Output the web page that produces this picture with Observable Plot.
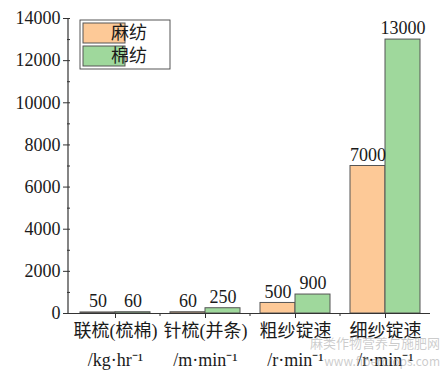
<!DOCTYPE html>
<html>
<head>
<meta charset="utf-8">
<script src="https://cdn.jsdelivr.net/npm/d3@7"></script>
<script src="https://cdn.jsdelivr.net/npm/@observablehq/plot@0.6"></script>
<style>
  html, body { margin: 0; padding: 0; background: white; }
  #chart { position: relative; width: 444px; height: 373px; }
  #chart svg, #chart svg text { font-family: "Liberation Serif", "Noto Sans CJK SC", serif !important; }
  #chart svg text.wm { font-family: "Noto Sans CJK SC", sans-serif !important; }
</style>
</head>
<body>
<div id="chart"></div>
<script>
const categories = ["联梳(梳棉)", "针梳(并条)", "粗纱锭速", "细纱锭速"];
const units = ["/kg·hr⁻¹", "/m·min⁻¹", "/r·min⁻¹", "/r·min⁻¹"];
const series = ["麻纺", "棉纺"];
const hempValues = [50, 60, 500, 7000];
const cottonValues = [60, 250, 900, 13000];
const yTicks = [0, 2000, 4000, 6000, 8000, 10000, 12000, 14000];
const yMinorTicks = [1000, 3000, 5000, 7000, 9000, 11000, 13000];
const colors = ["#FDC997", "#9FD89C"];

const data = categories.flatMap((c, i) => [
  {cat: c, s: series[0], v: hempValues[i]},
  {cat: c, s: series[1], v: cottonValues[i]}
]);

const FONT = "Liberation Serif, Noto Sans CJK SC, serif";

const chart = Plot.plot({
  width: 444, height: 373,
  marginLeft: 68, marginRight: 13, marginTop: 18, marginBottom: 60,
  style: {fontSize: "18px", color: "#1a1a1a", background: "white", overflow: "visible"},
  fx: {domain: categories, padding: 0, label: null},
  x: {domain: series, paddingInner: 0, paddingOuter: 0.26, axis: null},
  y: {domain: [0, 14000], label: null},
  color: {domain: series, range: colors},
  marks: [
    Plot.barY(data, {fx: "cat", x: "s", y: "v", fill: "s", stroke: "#555", strokeWidth: 1}),
    Plot.text(data, {fx: "cat", x: "s", y: "v", text: d => String(d.v), dy: -11, fontSize: 18, fill: "#1a1a1a", fontFamily: FONT}),
    Plot.ruleY([0], {stroke: "#333", strokeWidth: 1.2}),
    Plot.axisY({ticks: yTicks, tickSize: 7, tickPadding: 3, fontSize: 18, label: null, stroke: "#333",
      tickFormat: d3.format("d"), fontFamily: FONT}),
    Plot.axisY({ticks: yMinorTicks, tickSize: 3, tickFormat: () => "", label: null, stroke: "#333"}),
    Plot.axisFx({anchor: "bottom", tickSize: 5, tickPadding: -3, lineHeight: 1.65, fontSize: 18, label: null, stroke: "#333",
      fontFamily: FONT, tickFormat: c => c + "\n" + units[categories.indexOf(c)]})
  ]
});

document.getElementById("chart").appendChild(chart);

const svg = d3.select(chart);
const y = chart.scale("y");
const fx = chart.scale("fx");
const x0 = fx.range[0];
const yTop = y.apply(14000), yBot = y.apply(0);
svg.append("line").attr("x1", x0).attr("x2", x0).attr("y1", yTop).attr("y2", yBot)
  .attr("stroke", "#333").attr("stroke-width", 1.2);
categories.slice(1).forEach(c => {
  const xx = fx.apply(c);
  svg.append("line").attr("x1", xx).attr("x2", xx).attr("y1", yBot).attr("y2", yBot + 3)
    .attr("stroke", "#333");
});

// legend inside plot
const lg = svg.append("g").attr("transform", `translate(${x0 + 12},${yTop + 2})`);
lg.append("rect").attr("width", 90).attr("height", 49).attr("fill", "white").attr("stroke", "#444").attr("stroke-width", 0.9);
series.forEach((s, i) => {
  lg.append("rect").attr("x", 3).attr("y", 3 + i * 23).attr("width", 42).attr("height", 20)
    .attr("fill", colors[i]).attr("stroke", "#555");
  lg.append("text").attr("x", 49).attr("y", 13 + i * 23).attr("dy", "0.35em")
    .attr("font-size", 18).attr("fill", "#1a1a1a").text(s);
});

// watermark
const wm = svg.append("g").attr("fill", "#9a9a9a").attr("fill-opacity", 0.5).attr("text-anchor", "end");
wm.append("text").attr("class", "wm").attr("x", 440).attr("y", 348).attr("font-size", 13).text("麻类作物营养与施肥网");
wm.append("text").attr("class", "wm").attr("x", 440).attr("y", 366).attr("font-size", 12).text("www.fibercrops.com");
</script>
</body>
</html>
